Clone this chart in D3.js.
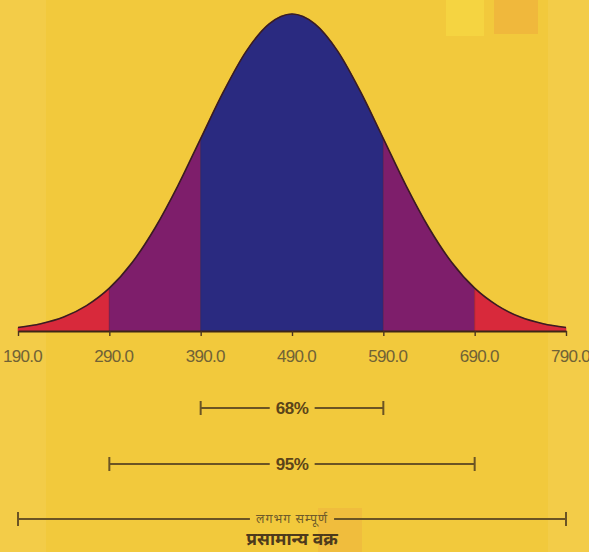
<!DOCTYPE html>
<html>
<head>
<meta charset="utf-8">
<script src="https://cdn.jsdelivr.net/npm/d3@7"></script>
<style>
  html, body { margin: 0; padding: 0; background: #f2c93c; }
  svg { display: block; }
</style>
</head>
<body>
<svg id="chart" width="589" height="552"></svg>
<script>
// Values
const tickValues = [190, 290, 390, 490, 590, 690, 790];
// relative curve height every 25 units, 190 -> 790
const curveX = d3.range(190, 791, 25);
const curveH = [0.011, 0.023, 0.044, 0.080, 0.135, 0.216, 0.325, 0.458, 0.607, 0.755, 0.883, 0.969, 1,
                0.969, 0.883, 0.755, 0.607, 0.458, 0.325, 0.216, 0.135, 0.080, 0.044, 0.023, 0.011];
const bandLo = [190, 290, 390, 590, 690];
const bandHi = [290, 390, 590, 690, 790];
const bandKind = ["tail", "mid", "core", "mid", "tail"];
const spanLabels = ["68%", "95%", "लगभग सम्पूर्ण"];
const spanLo = [390, 290, 190];
const spanHi = [590, 690, 790];
const title = "प्रसामान्य वक्र";

const svg = d3.select("#chart");
const W = 589, H = 552;

// Background texture, roughly like the printed page
const bg = svg.append("g").attr("class", "bg");
bg.append("rect").attr("width", W).attr("height", H).attr("fill", "#f2c93c");
bg.append("rect").attr("x", 0).attr("y", 0).attr("width", 46).attr("height", H)
    .attr("fill", "#f5d468").attr("opacity", 0.3);
bg.append("rect").attr("x", 548).attr("y", 0).attr("width", 41).attr("height", H)
    .attr("fill", "#f5d468").attr("opacity", 0.3);
bg.append("rect").attr("x", 446).attr("y", 0).attr("width", 38).attr("height", 36)
    .attr("fill", "#f6dc45").attr("opacity", 0.6);
bg.append("rect").attr("x", 494).attr("y", 0).attr("width", 44).attr("height", 34)
    .attr("fill", "#eeae3c").attr("opacity", 0.6);
bg.append("rect").attr("x", 318).attr("y", 508).attr("width", 44).attr("height", 44)
    .attr("fill", "#eeb03f").attr("opacity", 0.45);

const x = d3.scaleLinear().domain([190, 790]).range([18, 566]);
const y = d3.scaleLinear().domain([0, 1]).range([331, 14]);
const color = d3.scaleOrdinal()
    .domain(["tail", "mid", "core"])
    .range(["#d8293b", "#7e1e6b", "#2a2a80"]);

const points = curveX.map((v, i) => ({ x: v, h: curveH[i] }));

const area = d3.area()
    .x(d => x(d.x))
    .y0(y(0))
    .y1(d => y(d.h))
    .curve(d3.curveMonotoneX);

const line = d3.line()
    .x(d => x(d.x))
    .y(d => y(d.h))
    .curve(d3.curveMonotoneX);

// Shaded bands under the curve
svg.append("g").selectAll("path")
    .data(bandLo.map((lo, i) => ({ lo: lo, hi: bandHi[i], kind: bandKind[i] })))
    .join("path")
    .attr("d", b => area(points.filter(p => p.x >= b.lo && p.x <= b.hi)))
    .attr("fill", b => color(b.kind))
    .attr("stroke", b => color(b.kind))
    .attr("stroke-width", 0.6);

// Faint band boundaries
svg.append("g").selectAll("line")
    .data(bandLo.slice(1))
    .join("line")
    .attr("x1", d => x(d)).attr("x2", d => x(d))
    .attr("y1", d => y(curveH[curveX.indexOf(d)]))
    .attr("y2", y(0))
    .attr("stroke", "#3a1a30").attr("stroke-opacity", 0.3).attr("stroke-width", 1);

// Curve outline
svg.append("path")
    .attr("d", line(points))
    .attr("fill", "none")
    .attr("stroke", "#3b1c22")
    .attr("stroke-width", 1.6);

// X axis
const axis = svg.append("g")
    .attr("transform", `translate(0,${y(0)})`)
    .call(d3.axisBottom(x)
        .tickValues(tickValues)
        .tickFormat(d3.format(".1f"))
        .tickSizeInner(5)
        .tickSizeOuter(0)
        .tickPadding(14));
axis.select(".domain").attr("stroke", "#3e2616").attr("stroke-width", 2.2);
axis.selectAll(".tick line").attr("stroke", "#4a3320").attr("stroke-width", 1.4);
axis.selectAll(".tick text")
    .attr("fill", "#706236")
    .attr("font-family", "'Liberation Sans', Arial, sans-serif")
    .attr("font-size", 17)
    .attr("letter-spacing", -0.7)
    .attr("dx", 4);

// Coverage spans below the axis
const spanY = [408, 464, 519];
const spanColor = "#6b5424";
const spans = svg.append("g").selectAll("g")
    .data(spanLabels.map((t, i) => ({ t: t, lo: spanLo[i], hi: spanHi[i], row: i })))
    .join("g");

spans.append("text")
    .attr("x", d => x((d.lo + d.hi) / 2))
    .attr("y", d => spanY[d.row])
    .attr("dy", "0.35em")
    .attr("text-anchor", "middle")
    .attr("fill", d => d.row < 2 ? "#5a4419" : "#6e5a2a")
    .attr("font-family", d => d.row < 2 ? "'Liberation Sans', Arial, sans-serif"
        : "'Noto Sans Devanagari', 'Noto Sans', sans-serif")
    .attr("font-weight", d => d.row < 2 ? "bold" : "normal")
    .attr("font-size", d => d.row < 2 ? 17 : 12.5)
    .attr("letter-spacing", d => d.row < 2 ? -0.5 : 1)
    .text(d => d.t);

spans.each(function (d) {
    const g = d3.select(this);
    const bb = g.select("text").node().getBBox();
    const yy = spanY[d.row];
    const pad = 6;
    g.append("line")
        .attr("x1", x(d.lo)).attr("x2", bb.x - pad)
        .attr("y1", yy).attr("y2", yy);
    g.append("line")
        .attr("x1", bb.x + bb.width + pad).attr("x2", x(d.hi))
        .attr("y1", yy).attr("y2", yy);
    g.selectAll(".cap")
        .data([d.lo, d.hi])
        .join("line")
        .attr("class", "cap")
        .attr("x1", v => x(v)).attr("x2", v => x(v))
        .attr("y1", yy - 7).attr("y2", yy + 7);
    g.selectAll("line")
        .attr("stroke", spanColor)
        .attr("stroke-width", 2);
});

// Title
svg.append("text")
    .attr("x", x(490))
    .attr("y", 545)
    .attr("text-anchor", "middle")
    .attr("fill", "#4d3a1c")
    .attr("font-family", "'Noto Sans Devanagari', 'Noto Sans', sans-serif")
    .attr("font-size", 17.5)
    .attr("font-weight", "bold")
    .text(title);
</script>
</body>
</html>
